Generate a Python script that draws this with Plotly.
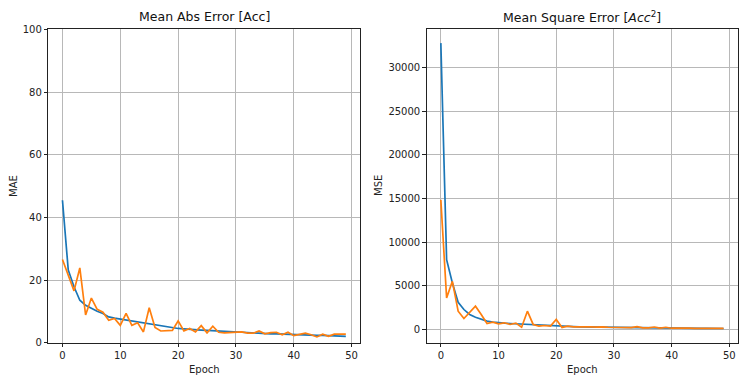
import plotly.graph_objects as go

epochs = list(range(50))

mae_train = [45.5, 23.2, 17.9, 13.6, 12.0, 11.0, 10.1, 9.4, 8.3, 7.9,
             7.6, 7.2, 6.8, 6.5, 6.2, 6.0, 5.8, 5.5, 5.2, 4.9,
             4.6, 4.5, 4.3, 4.2, 4.1, 4.0, 3.9, 3.8, 3.6, 3.5,
             3.3, 3.3, 3.2, 3.1, 3.1, 3.0, 2.9, 2.9, 2.8, 2.8,
             2.7, 2.6, 2.6, 2.5, 2.4, 2.4, 2.3, 2.3, 2.2, 2.1]
mae_val = [26.6, 21.6, 16.6, 23.9, 8.9, 14.3, 10.7, 9.8, 7.2, 7.8,
           5.6, 9.4, 5.6, 6.4, 3.5, 11.2, 4.9, 3.8, 3.8, 4.0,
           7.0, 3.8, 4.6, 3.5, 5.5, 3.2, 5.3, 3.4, 3.2, 3.3,
           3.6, 3.5, 3.1, 3.1, 3.8, 2.9, 3.3, 3.4, 2.6, 3.4,
           2.3, 2.8, 3.1, 2.6, 1.9, 2.8, 2.1, 2.8, 2.8, 2.8]

mse_train = [32770, 7985, 5320, 3115, 2280, 1710, 1400, 1140, 950, 850,
             760, 720, 680, 640, 600, 570, 530, 490, 450, 420,
             380, 360, 340, 320, 300, 290, 270, 260, 240, 220,
             190, 180, 175, 170, 160, 155, 150, 145, 140, 135,
             130, 128, 125, 122, 120, 118, 115, 112, 110, 110]
mse_val = [14830, 3610, 5510, 2090, 1250, 1900, 2660, 1710, 680, 830,
           650, 760, 570, 720, 260, 2090, 570, 380, 450, 380,
           1140, 230, 380, 300, 320, 280, 290, 260, 300, 250,
           250, 230, 220, 210, 320, 180, 190, 280, 160, 250,
           140, 160, 150, 140, 130, 140, 120, 150, 110, 130]

x_ticks = [0, 10, 20, 30, 40, 50]
mae_ticks = [0, 20, 40, 60, 80, 100]
mse_ticks = [0, 5000, 10000, 15000, 20000, 25000, 30000]

blue = "#1a76b7"
orange = "#ff7f0e"
font = "DejaVu Sans, Arial, sans-serif"

fig = go.Figure()
fig.add_trace(go.Scatter(x=epochs, y=mae_train, mode="lines", line=dict(color=blue, width=1.7),
                         xaxis="x", yaxis="y", showlegend=False))
fig.add_trace(go.Scatter(x=epochs, y=mae_val, mode="lines", line=dict(color=orange, width=1.7),
                         xaxis="x", yaxis="y", showlegend=False))
fig.add_trace(go.Scatter(x=epochs, y=mse_train, mode="lines", line=dict(color=blue, width=1.7),
                         xaxis="x2", yaxis="y2", showlegend=False))
fig.add_trace(go.Scatter(x=epochs, y=mse_val, mode="lines", line=dict(color=orange, width=1.7),
                         xaxis="x2", yaxis="y2", showlegend=False))

# The page body has an 8px margin, so lay out in page pixels minus that offset.
OFF = 8
W, H = 749 - OFF, 382 - OFF


def px_x(p):
    return (p - OFF) / W


def px_y(p):
    return 1 - (p - OFF) / H


ytop = px_y(29.3)
ybot = px_y(342.9)

axis_common = dict(showgrid=True, gridcolor="#b8b8b8", gridwidth=1, showline=True, mirror=True,
                   linecolor="#222222", linewidth=1, ticks="outside", ticklen=3.5, tickcolor="#222222",
                   zeroline=False, automargin=False, tickfont=dict(family=font, size=10, color="#222222"))

lab_font = dict(family=font, size=10, color="#222222")
title_font = dict(family=font, size=12.5, color="#111111")

fig.update_layout(
    width=W, height=H, margin=dict(l=0, r=0, t=0, b=0, autoexpand=False),
    plot_bgcolor="white", paper_bgcolor="white",
    font=dict(family=font, size=10, color="#222222"),
    xaxis=dict(domain=[px_x(48.3), px_x(360)], range=[-2.45, 51.45], tickvals=x_ticks,
               ticktext=[str(v) for v in x_ticks], anchor="y", **axis_common),
    yaxis=dict(domain=[ybot, ytop], range=[0, 100], tickvals=mae_ticks,
               ticktext=[str(v) for v in mae_ticks], anchor="x", **axis_common),
    xaxis2=dict(domain=[px_x(426.7), px_x(737.7)], range=[-2.45, 51.45], tickvals=x_ticks,
                ticktext=[str(v) for v in x_ticks], anchor="y2", **axis_common),
    yaxis2=dict(domain=[ybot, ytop], range=[-1540, 34350], tickvals=mse_ticks,
                ticktext=[str(v) for v in mse_ticks], anchor="x2", **axis_common),
    annotations=[
        dict(text="Mean Abs Error [Acc]", x=px_x((48.3 + 360) / 2), y=px_y(17), xref="paper", yref="paper",
             showarrow=False, font=title_font, xanchor="center", yanchor="middle"),
        dict(text="Mean Square Error [<i>Acc</i><sup>2</sup>]", x=px_x((426.7 + 737.7) / 2), y=px_y(17),
             xref="paper", yref="paper", showarrow=False, font=title_font,
             xanchor="center", yanchor="middle"),
        dict(text="Epoch", x=px_x((48.3 + 360) / 2), y=px_y(369), xref="paper", yref="paper",
             showarrow=False, font=lab_font, xanchor="center", yanchor="middle"),
        dict(text="Epoch", x=px_x((426.7 + 737.7) / 2), y=px_y(369), xref="paper", yref="paper",
             showarrow=False, font=lab_font, xanchor="center", yanchor="middle"),
        dict(text="MAE", x=px_x(13), y=px_y(186), xref="paper", yref="paper", textangle=-90,
             showarrow=False, font=lab_font, xanchor="center", yanchor="middle"),
        dict(text="MSE", x=px_x(378), y=px_y(186), xref="paper", yref="paper", textangle=-90,
             showarrow=False, font=lab_font, xanchor="center", yanchor="middle"),
    ],
    hovermode=False,
)

fig.write_html("out.html")
